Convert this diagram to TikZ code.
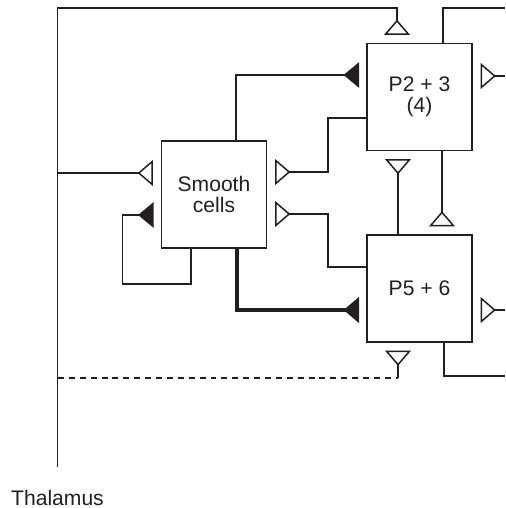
\documentclass[tikz,border=0pt]{standalone}
\usepackage{fontspec}
\setmainfont{Liberation Sans}
\usetikzlibrary{arrows.meta,calc}
\definecolor{ink}{HTML}{231F20}
\tikzset{
  cell/.style = {draw=ink, line width=1.1pt, minimum width=2.1cm, minimum height=2.14cm,
                 align=center, inner sep=0pt, text=ink, font=\fontsize{12}{12}\selectfont},
  wire/.style = {draw=ink, line width=0.85pt},
  exc/.style  = {wire, -{Triangle[reversed, open, length=8.6pt, width=14.6pt]}, shorten >=4.4pt},
  inh/.style  = {wire, -{Triangle[reversed, length=8.8pt, width=14.4pt]}, shorten >=4pt},
}
\begin{document}
\begin{tikzpicture}[x=0.02cm, y=-0.02cm]
  \useasboundingbox (0,0) rectangle (505,508);
  \node[cell] (smooth) at (214,194.5) {Smooth\\cells};
  \node[cell] (p23) at (419.5,97) {P2 + 3\\(4)};
  \node[cell] (p56) at (419.5,288.5) {P5 + 6};
  \node[font=\fontsize{12}{12}\selectfont, text=ink, inner sep=0pt, anchor=base] (thal) at (57.5,505) {Thalamus};
  \coordinate (tb) at (58,173);
  \coordinate (td) at (58,378);
  \coordinate (dd) at (398,378);
  \coordinate (outa) at (505,8);
  \coordinate (outb) at (505,376);
  \coordinate (ina) at (505,76);
  \coordinate (inb) at (505,310);
  \draw[exc, shorten <=12.6pt] (thal.north) -- (thal.north |- outa) -| ($(p23.north)+(-22.5,0)$);
  \draw[exc] (tb) -- (tb -| smooth.west);
  \draw[wire, dash pattern=on 3.4pt off 2.8pt] (td) -- (dd);
  \draw[exc] (dd) -- (dd |- p56.south);
  \draw[wire] ($(p23.north)+(23.5,0)$) |- (outa);
  \draw[wire] ($(p56.south)+(24.5,0)$) |- (outb);
  \draw[exc] (ina) -- (ina -| p23.east);
  \draw[exc] (inb) -- (inb -| p56.east);
  \draw[inh] ($(smooth.north)+(22,0)$) |- ($(p23.west)+(0,-22)$);
  \draw[inh, line width=2pt] ($(smooth.south)+(23,0)$) |- ($(p56.west)+(0,21.5)$);
  \draw[inh] ($(smooth.south)+(-23,0)$) -- ++(0,35) -| ($(smooth.west)+(-38,20.5)$) -- ($(smooth.west)+(0,20.5)$);
  \draw[exc] ($(p23.west)+(0,21)$) -- ++(-38,0) |- ($(smooth.east)+(0,-22.5)$);
  \draw[exc] ($(p56.west)+(0,-21.5)$) -- ++(-38,0) |- ($(smooth.east)+(0,19.5)$);
  \draw[exc] ($(p56.north)+(-21.5,0)$) -- ($(p23.south)+(-21.5,0)$);
  \draw[exc] ($(p23.south)+(22.5,0)$) -- ($(p56.north)+(22.5,0)$);
\end{tikzpicture}
\end{document}
